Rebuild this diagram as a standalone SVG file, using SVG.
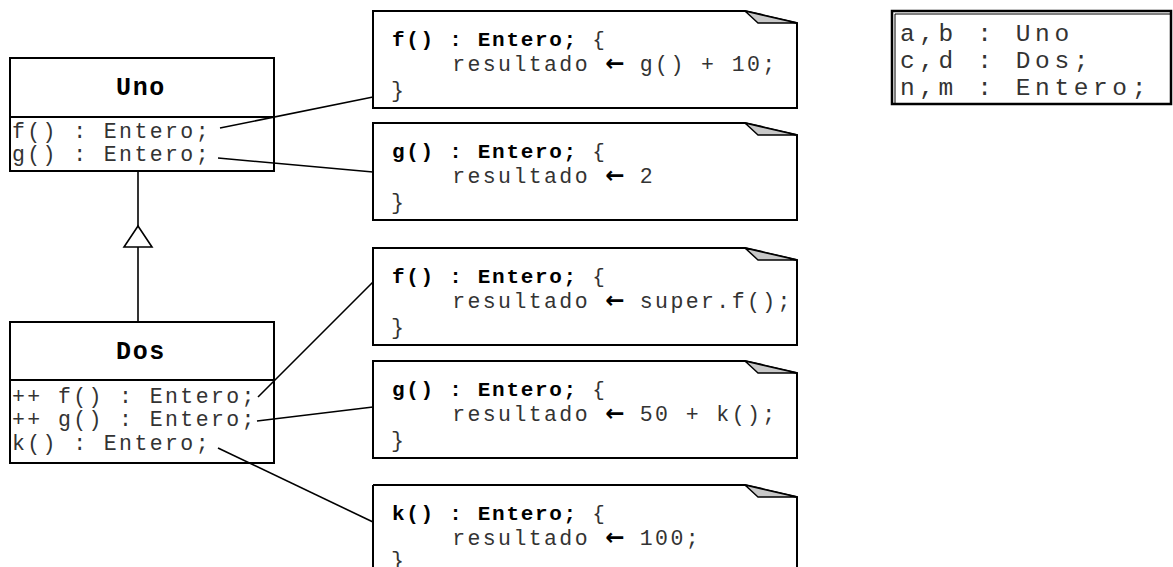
<svg xmlns="http://www.w3.org/2000/svg" width="1173" height="567" viewBox="0 0 1173 567">
  <style>
    text { white-space: pre; }
    .box { fill: #fff; stroke: #000; stroke-width: 2; }
    .rule { stroke: #000; stroke-width: 2; }
    .title { font-family: "Liberation Mono", "Courier New", monospace; font-weight: bold; font-size: 25px; letter-spacing: 1.7px; text-anchor: middle; fill: #000; }
    .member { font-family: "Liberation Mono", "Courier New", monospace; font-size: 21.5px; letter-spacing: 2.4px; fill: #333; }
    .note { fill: #fff; stroke: #000; stroke-width: 2; }
    .fold { fill: #c8c8c8; stroke: #000; stroke-width: 1.5; stroke-linejoin: round; }
    .code { font-family: "Liberation Mono", "Courier New", monospace; font-size: 21.5px; letter-spacing: 2.4px; fill: #333; }
    .sig { font-family: "Liberation Mono", "Courier New", monospace; font-size: 21px; letter-spacing: 1.7px; font-weight: bold; fill: #000; }
    .brace { font-weight: normal; fill: #333; }
    .arrow { font-family: "DejaVu Sans", sans-serif; font-size: 23px; letter-spacing: 0; font-weight: bold; fill: #000; }
    .link { stroke: #000; stroke-width: 1.6; fill: none; }
    .vars { font-family: "Liberation Mono", "Courier New", monospace; font-size: 24.5px; letter-spacing: 4.6px; fill: #333; }
  </style>
  <defs>
    <!-- sticky note outline with a folded top-right corner, origin at its top-left -->
    <g id="noteShape">
      <path class="note" d="M0,0 H372 L424,12 V97 H0 Z"/>
      <path class="fold" d="M372,0 L424,12 L385,12 Z"/>
    </g>
  </defs>

  <rect width="1173" height="567" fill="#fff"/>

  <!-- class Uno -->
  <g id="uno">
    <rect class="box" x="10" y="58" width="264" height="113"/>
    <line class="rule" x1="10" y1="117" x2="274" y2="117"/>
    <text class="title" x="141" y="95">Uno</text>
    <text class="member" x="12" y="138">f() : Entero;</text>
    <text class="member" x="12" y="161">g() : Entero;</text>
  </g>

  <!-- class Dos -->
  <g id="dos">
    <rect class="box" x="10" y="322" width="264" height="141"/>
    <line class="rule" x1="10" y1="380" x2="274" y2="380"/>
    <text class="title" x="141" y="359">Dos</text>
    <text class="member" x="12" y="403">++ f() : Entero;</text>
    <text class="member" x="12" y="426">++ g() : Entero;</text>
    <text class="member" x="12" y="450">k() : Entero;</text>
  </g>

  <!-- method bodies -->
  <g id="note-uno-f" transform="translate(373,11)">
    <use href="#noteShape"/>
    <text class="sig" x="19" y="35">f() : Entero; <tspan class="brace">{</tspan></text>
    <text class="code" x="18" y="60">    resultado <tspan class="arrow">←</tspan> g() + 10;</text>
    <text class="code" x="18" y="86">}</text>
  </g>
  <g id="note-uno-g" transform="translate(373,123)">
    <use href="#noteShape"/>
    <text class="sig" x="19" y="35">g() : Entero; <tspan class="brace">{</tspan></text>
    <text class="code" x="18" y="60">    resultado <tspan class="arrow">←</tspan> 2</text>
    <text class="code" x="18" y="86">}</text>
  </g>
  <g id="note-dos-f" transform="translate(373,248)">
    <use href="#noteShape"/>
    <text class="sig" x="19" y="35">f() : Entero; <tspan class="brace">{</tspan></text>
    <text class="code" x="18" y="60">    resultado <tspan class="arrow">←</tspan> super.f();</text>
    <text class="code" x="18" y="86">}</text>
  </g>
  <g id="note-dos-g" transform="translate(373,361)">
    <use href="#noteShape"/>
    <text class="sig" x="19" y="35">g() : Entero; <tspan class="brace">{</tspan></text>
    <text class="code" x="18" y="60">    resultado <tspan class="arrow">←</tspan> 50 + k();</text>
    <text class="code" x="18" y="86">}</text>
  </g>
  <g id="note-dos-k" transform="translate(373,485)">
    <path class="note" d="M0,0 H372 L424,12 V120 M0,120 V0"/>
    <path class="fold" d="M372,0 L424,12 L385,12 Z"/>
    <text class="sig" x="19" y="35">k() : Entero; <tspan class="brace">{</tspan></text>
    <text class="code" x="18" y="60">    resultado <tspan class="arrow">←</tspan> 100;</text>
    <text class="code" x="18" y="82">}</text>
  </g>

  <!-- variable declarations -->
  <g id="vars">
    <rect x="892" y="11" width="279" height="93" fill="#fff" stroke="#000" stroke-width="2.5"/>
    <path d="M895,104 V14 H1171" fill="none" stroke="#000" stroke-width="1"/>
    <text class="vars" x="900" y="41">a,b : Uno</text>
    <text class="vars" x="900" y="68">c,d : Dos;</text>
    <text class="vars" x="900" y="95">n,m : Entero;</text>
  </g>

  <!-- connectors -->
  <g id="connectors">
    <line class="link" x1="138" y1="171" x2="138" y2="226"/>
    <path d="M138,226 L152,247 H124 Z" fill="#fff" stroke="#000" stroke-width="1.6"/>
    <line class="link" x1="138" y1="247" x2="138" y2="322"/>
    <line class="link" x1="220" y1="128" x2="373" y2="97"/>
    <line class="link" x1="218" y1="158" x2="373" y2="172"/>
    <line class="link" x1="258" y1="397" x2="373" y2="282"/>
    <line class="link" x1="257" y1="421" x2="373" y2="407"/>
    <line class="link" x1="218" y1="448" x2="373" y2="522"/>
  </g>
</svg>
